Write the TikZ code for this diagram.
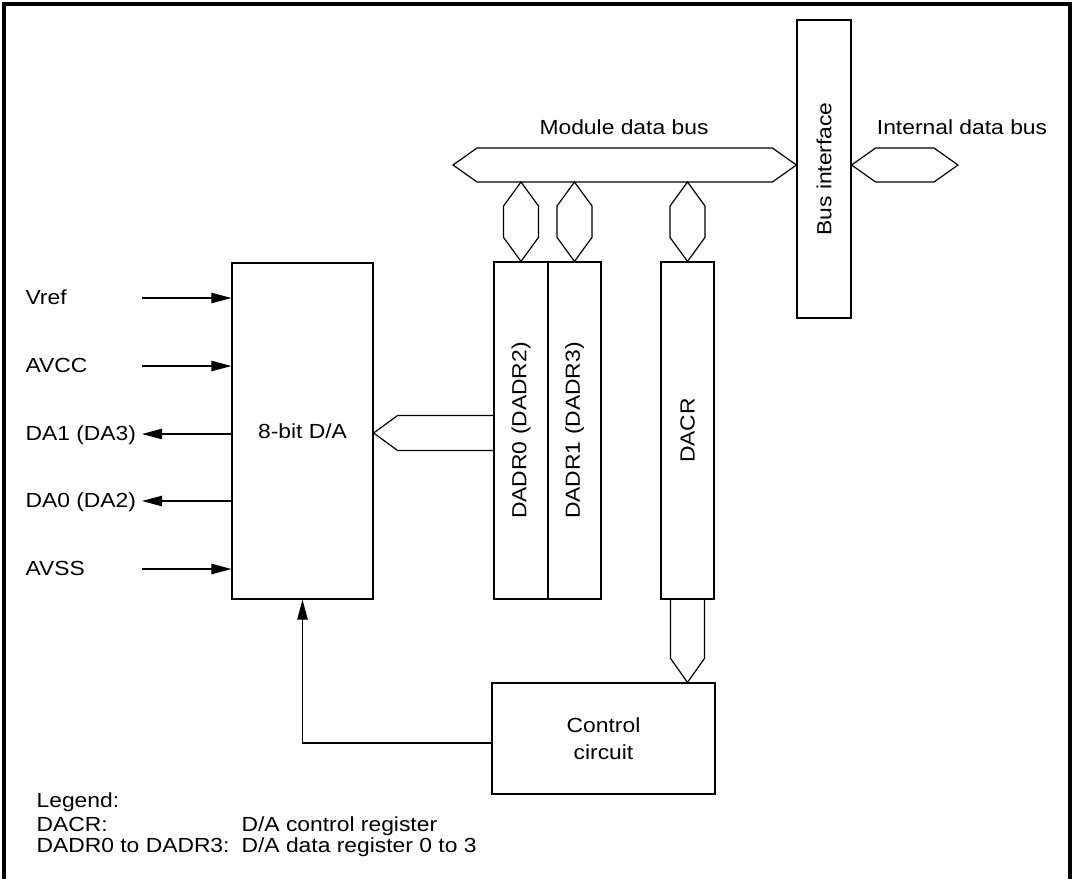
\documentclass[tikz,border=0pt]{standalone}
\usepackage{fontspec}
\setmainfont{Liberation Sans}[FakeStretch=1.12]
\usetikzlibrary{arrows.meta, calc}

% fat bus with a point at both ends
\newcommand{\hbus}[2]{%
  \draw[bus] (#1) -- ++(24,-17) -- ($(#2)+(-24,-17)$) -- (#2)
    -- ($(#2)+(-24,17)$) -- ($(#1)+(24,17)$) -- cycle;}
\newcommand{\vbus}[2]{%
  \draw[bus] (#1) -- ++(17.5,24) -- ($(#2)+(17.5,-24)$) -- (#2)
    -- ($(#2)+(-17.5,-24)$) -- ($(#1)+(-17.5,24)$) -- cycle;}

\begin{document}
\begin{tikzpicture}[x=0.5pt, y=-0.5pt, line width=0.6pt,
    font=\fontsize{10.2}{13.5}\selectfont,
    box/.style={draw, inner sep=0pt},
    bus/.style={draw, line join=miter},
    lbl/.style={inner sep=0pt, anchor=base west},
    sig/.style={-{Triangle[length=10pt,width=5.2pt]}}]
    \useasboundingbox (0,0) rectangle (1075,879);
    \draw[line width=2pt] (4,879) -- (4,4) -- (1070,4) -- (1070,879);

    % blocks
    \node[box, minimum width=70.5pt, minimum height=168pt] (da) at (302.5,431) {8-bit D/A};
    \node[box, minimum width=27pt, minimum height=168.5pt] (dadr0) at (521,430.5) {};
    \node[box, minimum width=26.5pt, minimum height=168.5pt] (dadr1) at (574.5,430.5) {};
    \node[box, minimum width=26.5pt, minimum height=168.5pt] (dacr) at (687.5,430.5) {};
    \node[box, minimum width=27pt, minimum height=149pt] (busif) at (824,169) {};
    \node[box, minimum width=111.5pt, minimum height=55.5pt, align=center] (ctrl) at (603.5,738.5) {Control\\circuit};
    \node[rotate=90] (dadr0txt) at (dadr0) {DADR0 (DADR2)};
    \node[rotate=90] (dadr1txt) at (dadr1) {DADR1 (DADR3)};
    \node[rotate=90] (dacrtxt) at (dacr) {DACR};
    \node[rotate=90] (busiftxt) at (busif) {Bus interface};

    % buses
    \coordinate (mbusl) at (453,165);
    \coordinate (mbusbot) at (453,182);
    \coordinate (ibusr) at (958,165);
    \node (mbustxt) at (624,127) {Module data bus};
    \node (ibustxt) at (962,127) {Internal data bus};
    \hbus{mbusl}{busif.west |- mbusl}
    \hbus{busif.east |- mbusl}{ibusr}
    \vbus{dadr0.north |- mbusbot}{dadr0.north}
    \vbus{dadr1.north |- mbusbot}{dadr1.north}
    \vbus{dacr.north |- mbusbot}{dacr.north}

    \coordinate (datip) at (da.east |- 0,433);
    \draw[bus] ($(datip -| dadr0.west)+(0,-17.5)$) -- ($(datip)+(24,-17.5)$) -- (datip)
        -- ($(datip)+(24,17.5)$) -- ($(datip -| dadr0.west)+(0,17.5)$);
    \coordinate (ctip) at (dacr.south |- ctrl.north);
    \draw[bus] ($(dacr.south)+(-17,0)$) -- ($(ctip)+(-17,-24)$) -- (ctip)
        -- ($(ctip)+(17,-24)$) -- ($(dacr.south)+(17,0)$);

    \draw[sig] ([yshift=-2.25pt]ctrl.west) -| (da.south);

    % pins
    \foreach \n/\y/\t in {vref/298/Vref, avcc/366/AVCC, avss/569/AVSS}{
        \node[lbl] (\n) at (25,\y+6) {\t};
        \coordinate (\n-in) at (142,\y);
        \draw[sig] (\n-in) -- (\n-in -| da.west);
    }
    \foreach \n/\y/\t in {daone/434/DA1 (DA3), dazero/501/DA0 (DA2)}{
        \node[lbl] (\n) at (25,\y+6) {\t};
        \coordinate (\n-out) at (142,\y);
        \draw[sig] (\n-out -| da.west) -- (\n-out);
    }

    % legend
    \node[lbl] (leg) at (36,807) {Legend:};
    \node[lbl] (legdacr) at (36,831) {DACR:};
    \node[lbl] (legdadr) at (36,852) {DADR0 to DADR3:};
    \node[lbl] (legdacrtxt) at (241,831) {D/A control register};
    \node[lbl] (legdadrtxt) at (241,852) {D/A data register 0 to 3};
\end{tikzpicture}
\end{document}
